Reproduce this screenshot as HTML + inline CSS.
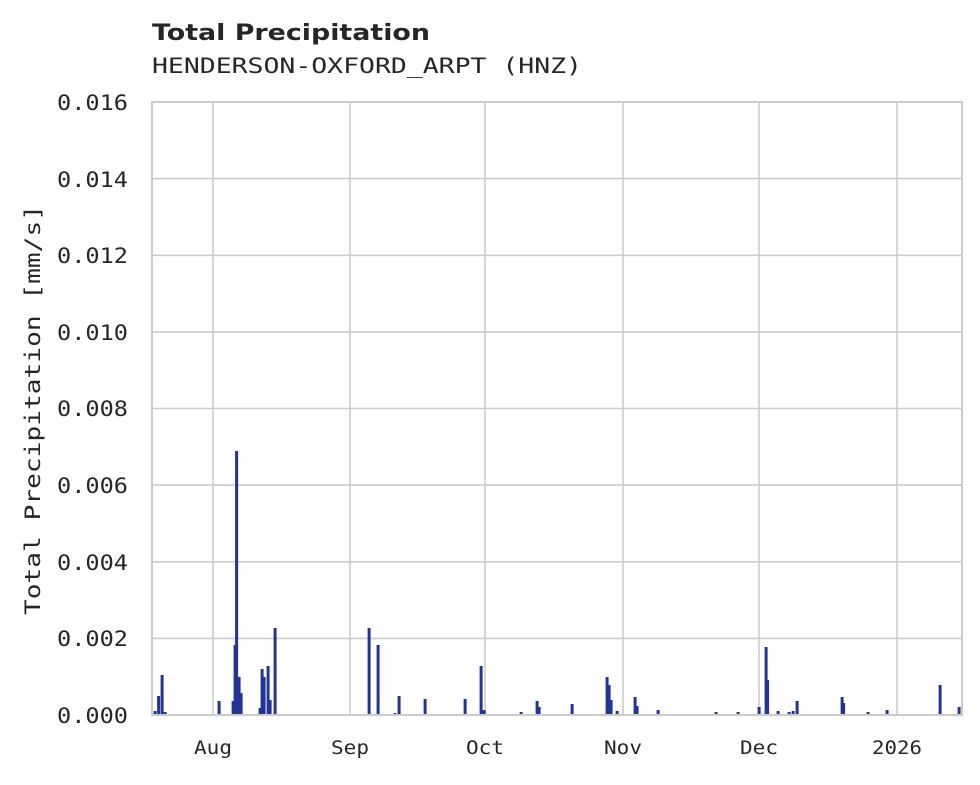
<!DOCTYPE html>
<html><head><meta charset="utf-8"><style>
body{margin:0;background:#fff;}
svg text{font-family:"DejaVu Sans Mono","Liberation Mono",monospace;fill:#262626;}
</style></head><body>
<svg width="980" height="780" xmlns="http://www.w3.org/2000/svg">
<rect width="980" height="780" fill="#fff"/>
<text x="152" y="40" textLength="278" lengthAdjust="spacingAndGlyphs" style="font-family:'DejaVu Sans','Liberation Sans',sans-serif;font-weight:bold;font-size:22px">Total Precipitation</text>
<text x="152" y="73" font-size="21" textLength="430" lengthAdjust="spacingAndGlyphs">HENDERSON-OXFORD_ARPT (HNZ)</text>
<g stroke="#cccccc" stroke-width="1.6">
<line x1="152" x2="962" y1="178.6" y2="178.6"/><line x1="152" x2="962" y1="255.3" y2="255.3"/>
<line x1="152" x2="962" y1="331.9" y2="331.9"/><line x1="152" x2="962" y1="408.5" y2="408.5"/>
<line x1="152" x2="962" y1="485.1" y2="485.1"/><line x1="152" x2="962" y1="561.8" y2="561.8"/>
<line x1="152" x2="962" y1="638.4" y2="638.4"/>
<line x1="213" x2="213" y1="102" y2="715"/><line x1="350" x2="350" y1="102" y2="715"/>
<line x1="485" x2="485" y1="102" y2="715"/><line x1="623" x2="623" y1="102" y2="715"/>
<line x1="759" x2="759" y1="102" y2="715"/><line x1="897" x2="897" y1="102" y2="715"/>
</g>
<rect x="152" y="102" width="810" height="613" fill="none" stroke="#cccccc" stroke-width="2"/>
<g fill="#233594">
<rect x="153.6" y="711" width="3" height="3"/><rect x="157.1" y="696" width="3" height="18"/>
<rect x="160.6" y="675" width="3" height="39"/><rect x="163.6" y="712" width="3" height="2"/>
<rect x="217.6" y="701" width="3" height="13"/><rect x="231.6" y="701" width="3" height="13"/>
<rect x="233.6" y="645" width="3" height="69"/><rect x="235.1" y="451" width="3" height="263"/>
<rect x="237.6" y="677" width="3" height="37"/><rect x="239.6" y="693" width="3" height="21"/>
<rect x="258.6" y="708" width="3" height="6"/>
<rect x="260.6" y="669" width="3" height="45"/><rect x="262.6" y="677" width="3" height="37"/>
<rect x="266.6" y="666" width="3" height="48"/><rect x="268.6" y="700" width="3" height="14"/>
<rect x="273.6" y="628" width="3" height="86"/><rect x="367.6" y="628" width="3" height="86"/>
<rect x="376.6" y="645" width="3" height="69"/><rect x="393.6" y="713" width="3" height="1"/>
<rect x="397.6" y="696" width="3" height="18"/><rect x="423.6" y="699" width="3" height="15"/>
<rect x="463.6" y="699" width="3" height="15"/><rect x="479.6" y="666" width="3" height="48"/>
<rect x="482.6" y="710" width="3" height="4"/><rect x="519.6" y="712" width="3" height="2"/>
<rect x="535.6" y="701" width="3" height="13"/><rect x="537.6" y="707" width="3" height="7"/>
<rect x="570.6" y="704" width="3" height="10"/><rect x="605.6" y="677" width="3" height="37"/>
<rect x="607.6" y="685" width="3" height="29"/><rect x="609.6" y="700" width="3" height="14"/>
<rect x="615.6" y="711" width="3" height="3"/><rect x="633.6" y="697" width="3" height="17"/>
<rect x="635.6" y="706" width="3" height="8"/><rect x="656.6" y="710" width="3" height="4"/>
<rect x="714.6" y="712" width="3" height="2"/><rect x="736.6" y="712" width="3" height="2"/>
<rect x="757.6" y="707" width="3" height="7"/><rect x="764.6" y="647" width="3" height="67"/>
<rect x="766.1" y="680" width="3" height="34"/><rect x="776.6" y="711" width="3" height="3"/>
<rect x="787.6" y="712" width="3" height="2"/><rect x="791.6" y="711" width="3" height="3"/>
<rect x="795.6" y="701" width="3" height="13"/><rect x="840.6" y="697" width="3" height="17"/>
<rect x="842.1" y="703" width="3" height="11"/><rect x="866.6" y="712" width="3" height="2"/>
<rect x="885.6" y="710" width="3" height="4"/><rect x="938.6" y="685" width="3" height="29"/>
<rect x="957.6" y="707" width="3" height="7"/>
</g>
<g font-size="21" text-anchor="end">
<text x="128" y="110" textLength="71" lengthAdjust="spacingAndGlyphs">0.016</text>
<text x="128" y="187" textLength="71" lengthAdjust="spacingAndGlyphs">0.014</text>
<text x="128" y="263" textLength="71" lengthAdjust="spacingAndGlyphs">0.012</text>
<text x="128" y="340" textLength="71" lengthAdjust="spacingAndGlyphs">0.010</text>
<text x="128" y="416" textLength="71" lengthAdjust="spacingAndGlyphs">0.008</text>
<text x="128" y="493" textLength="71" lengthAdjust="spacingAndGlyphs">0.006</text>
<text x="128" y="570" textLength="71" lengthAdjust="spacingAndGlyphs">0.004</text>
<text x="128" y="646" textLength="71" lengthAdjust="spacingAndGlyphs">0.002</text>
<text x="128" y="723" textLength="71" lengthAdjust="spacingAndGlyphs">0.000</text>
</g>
<g font-size="19" text-anchor="middle">
<text x="213" y="754" textLength="38" lengthAdjust="spacingAndGlyphs">Aug</text>
<text x="350" y="754" textLength="38" lengthAdjust="spacingAndGlyphs">Sep</text>
<text x="485" y="754" textLength="38" lengthAdjust="spacingAndGlyphs">Oct</text>
<text x="623" y="754" textLength="38" lengthAdjust="spacingAndGlyphs">Nov</text>
<text x="759" y="754" textLength="38" lengthAdjust="spacingAndGlyphs">Dec</text>
<text x="897" y="754" textLength="50" lengthAdjust="spacingAndGlyphs">2026</text>
</g>
<text transform="translate(40,410) rotate(-90)" font-size="21" text-anchor="middle" textLength="410" lengthAdjust="spacingAndGlyphs">Total Precipitation [mm/s]</text>
</svg>
</body></html>
